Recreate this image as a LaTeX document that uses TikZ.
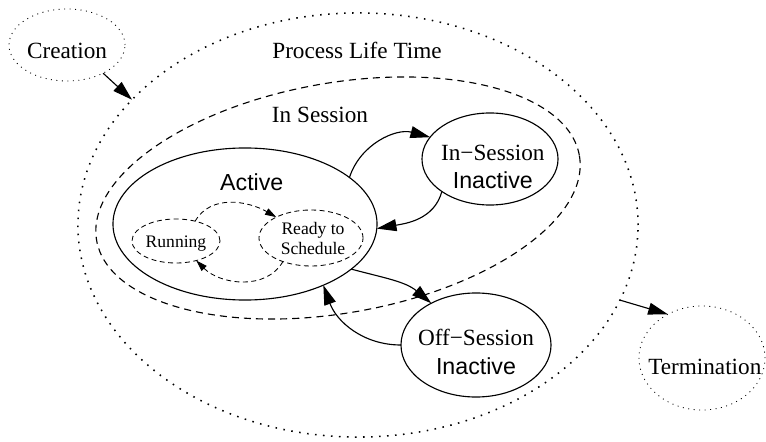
\documentclass[tikz,border=0pt]{standalone}
\usepackage{fontspec}
\setmainfont{Liberation Serif}
\setsansfont{Liberation Sans}
\usetikzlibrary{shapes.geometric,arrows.meta}

\begin{document}
\begin{tikzpicture}[x=0.025cm, y=0.025cm,
  font=\fontsize{16.5}{20.5}\selectfont,
  blob/.style={ellipse, draw, inner sep=0pt, outer sep=0pt},
  statebox/.style={blob, line width=0.8pt},
  lifeline/.style={blob, line width=1.1pt, dash pattern=on 1.1pt off 4.6pt},
  sessline/.style={blob, line width=0.8pt, dash pattern=on 5pt off 3.6pt},
  endpoint/.style={blob, line width=0.6pt, dash pattern=on 0.7pt off 3.2pt},
  substate/.style={blob, line width=0.6pt, dash pattern=on 3.5pt off 2.5pt},
  txt/.style={align=center},
  small/.style={font=\fontsize{12.5}{14.2}\selectfont},
  move/.style={line width=0.8pt, -{Triangle[length=14pt,width=8.5pt]}},
  sched/.style={line width=0.6pt, dash pattern=on 3.5pt off 2.5pt, -{Triangle[length=8pt,width=5pt]}}
]
\useasboundingbox (0,0) rectangle (766,441);

% outer regions
\node[lifeline, minimum width=14cm, minimum height=10.6cm] (life) at (358,216) {};
\node (lifetitle) at (357,391) {Process Life Time};
\node[sessline, rotate=10, minimum width=12.25cm, minimum height=5.75cm] (session) at (338,243) {};
\node (sessiontitle) at (320,326) {In Session};

% start and end
\node[endpoint, minimum width=2.9cm, minimum height=1.8cm,
  label={[yshift=-0.15cm]center:Creation}] (creation) at (67,396) {};
\node[endpoint, minimum width=3.15cm, minimum height=2.6cm,
  label={[xshift=0.07cm,yshift=-0.22cm]center:Termination}] (termination) at (702,83) {};

% states
\node[statebox, minimum width=6.6cm, minimum height=3.8cm,
  label={[xshift=0.17cm,yshift=1.05cm]center:\sffamily Active}] (active) at (245,217) {};
\node[statebox, minimum width=3.4cm, minimum height=2.3cm,
  label={[txt,xshift=0.07cm,yshift=-0.2cm]center:{In−Session\\\sffamily Inactive}}] (insess) at (490,282) {};
\node[statebox, minimum width=3.75cm, minimum height=2.6cm,
  label={[txt,yshift=-0.17cm]center:{Off−Session\\\sffamily Inactive}}] (offsess) at (476,96) {};

% inside active
\node[substate, minimum width=2.2cm, minimum height=1.1cm,
  label={[small,yshift=-0.07cm]center:Running}] (running) at (176,200) {};
\node[substate, minimum width=2.6cm, minimum height=1.4cm,
  label={[small,txt,xshift=0.05cm,yshift=-0.02cm]center:{Ready to\\Schedule}}] (ready) at (311,203) {};

% transitions
\draw[move] (creation.-38) -- (life.151);
\draw[move] (life.-16) -- (termination.128);
\draw[move] (active.24) to[out=72,in=165] (insess.160);
\draw[move] (insess.214) to[out=-105,in=10] (active.-2);
\draw[move] (active.-23) to[out=-15,in=140] (offsess.137);
\draw[move] (offsess.west) to[out=180,in=-70] (active.-38);
\draw[sched] (running.46) to[out=60,in=150] (ready.149);
\draw[sched] (ready.220) to[out=-120,in=-45] (running.-44);
\end{tikzpicture}
\end{document}
